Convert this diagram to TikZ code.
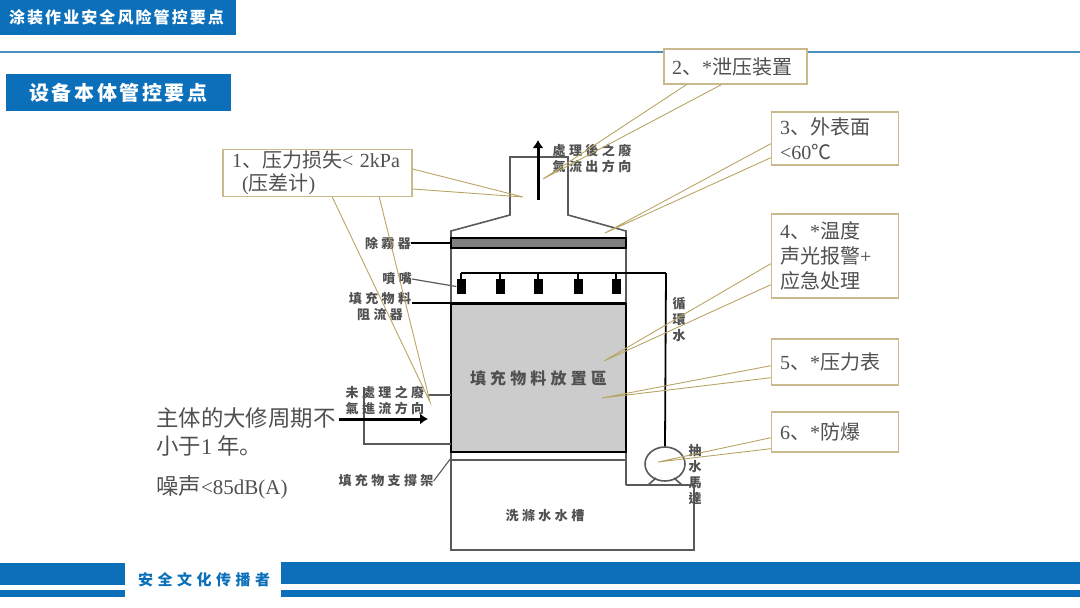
\documentclass[tikz,border=0pt]{standalone}
\usepackage{fontspec}
\setmainfont{Noto Sans CJK SC}
\newfontfamily\romfont{Liberation Serif}
\newfontfamily\headfont[LetterSpace=13]{Noto Sans CJK SC}
\newfontfamily\footfont[LetterSpace=30]{Noto Sans CJK SC}
\newfontfamily\tagfont[LetterSpace=26]{Noto Sans CJK TC}
\usepackage{xcolor}
\usetikzlibrary{arrows.meta,positioning,calc,shapes.geometric}
\definecolor{fblue}{HTML}{0B6FBA}
\definecolor{frule}{HTML}{4A8FBF}
\definecolor{ftan}{HTML}{C9B98C}
\definecolor{fleader}{HTML}{B8A566}
\definecolor{fwall}{HTML}{5A5A5A}
\definecolor{fink}{HTML}{505050}
\tikzset{
  banner/.style   = {fill=fblue, text=white, inner sep=0pt, font=\headfont\bfseries},
  stripe/.style   = {fill=fblue, draw=none},
  notebox/.style  = {draw=ftan, line width=1.4pt, fill=white, inner sep=0pt, align=left,
                     text=fink, font=\fontsize{20}{25}\selectfont},
  leader/.style   = {draw=fleader, line width=0.9pt},
  wall/.style     = {draw=fwall, line width=1.6pt},
  pipe/.style     = {draw=black, line width=1.8pt},
  nozzle/.style   = {fill=black, draw=none, minimum width=9pt, minimum height=15pt, inner sep=0pt},
  tag/.style      = {text=fink, inner sep=0pt, align=center, font=\fontsize{13}{16}\selectfont\tagfont\bfseries},
  sidetext/.style = {text=fink, inner sep=0pt, anchor=west, font=\fontsize{22.4}{28}\selectfont},
  flow/.style     = {-{Latex[length=8pt,width=11pt]}, line width=3pt, draw=black},
}
\begin{document}
\begin{tikzpicture}[x=1pt,y=-1pt]
\useasboundingbox (0,0) rectangle (1080,608);
% header and footer
\node[banner,minimum width=236pt,minimum height=35pt,font=\fontsize{16}{18}\selectfont\headfont\bfseries] (title) at (118,17.5) {\hspace*{-3pt}涂装作业安全风险管控要点};
\draw[frule,line width=1.3pt] (0,52) -- (1080,52);
\node[banner,minimum width=225pt,minimum height=37pt,font=\fontsize{20}{22}\selectfont\headfont\bfseries] (subtitle) at (118.5,92.5) {设备本体管控要点};
\fill[stripe] (0,563) rectangle (125,585);
\fill[stripe] (0,590) rectangle (125,597);
\fill[stripe] (281,562) rectangle (1080,584);
\fill[stripe] (281,590) rectangle (1080,597);
\node[text=fblue,inner sep=0pt,font=\fontsize{15}{17}\selectfont\footfont\bfseries] (slogan) at (204,580) {安全文化传播者};
% tower shell
\draw[wall] (451,460) -- (451,231) -- (510,215) -- (510,157) -- (568,157) -- (568,215) -- (626,231) -- (626,485);
\draw[wall] (451,460) -- (451,550) -- (694,550) -- (694,485) -- (626,485);
\draw[wall] (451,460) -- (626,460);
% inner parts
\node[draw=black,line width=1.6pt,fill=black!50,minimum width=175pt,minimum height=10pt,inner sep=0pt] (demister) at (538.5,243) {};
\node[draw=black,line width=1.8pt,fill=black!20,minimum width=175pt,minimum height=148pt,inner sep=0pt,
      text=fink,font=\fontsize{16}{18}\selectfont\tagfont\bfseries] (packing) at (538.5,378) {填充物料放置區};
\draw[line width=3pt] (451,303) coordinate (barleft) -- (626,303);
% spray line and pump
\coordinate (spray) at (461,273);
\coordinate (sprayend) at (666,273);
\draw[pipe] (spray) -- (sprayend);
\foreach \x/\n in {461/a,500/b,538/c,578/d,616/e}{%
  \node[nozzle] (nozzle\n) at (\x,286.5) {};
  \draw[line width=1.4pt] (nozzle\n.north) -- (nozzle\n.north |- spray);}
\node[draw=fwall,line width=1.6pt,fill=white,ellipse,minimum width=40pt,minimum height=34pt,inner sep=0pt] (pump) at (665,464) {};
\draw[pipe] (sprayend) -- (pump.north);
\draw[wall] (648,485) -- (656,478);
\draw[wall] (682,485) -- (674,478);
% gas inlet
\coordinate (inletup) at (451,395);
\coordinate (inletlow) at (451,444);
\draw[wall] (inletup) -- (428,395);
\draw[wall] (inletlow) -- (364,444) -- (364,387);
% flow labels
\node[tag] (outlabel) at (592,158) {處理後之廢\\氣流出方向};
\coordinate (outstart) at (538,200);
\coordinate (outend) at (538,140);
\draw[flow] (outstart) -- (outend);
\node[tag] (inlabel) at (385,400.5) {未處理之廢\\氣進流方向};
\coordinate (instart) at (339,419);
\coordinate (inend) at (428,419);
\draw[flow] (instart) -- (inend);
% part labels
\node[tag,anchor=east] (demisterlabel) at (411,243) {除霧器};
\node[tag,anchor=east] (nozzlelabel) at (412,279) {噴嘴};
\node[tag] (barlabel) at (380,306.5) {填充物料\\阻流器};
\node[tag] (propslabel) at (386,481) {填充物支撐架};
\node[tag] (tanklabel) at (545,516) {洗滌水水槽};
\node[tag] (looplabel) at (679,320) {循\\環\\水};
\node[tag] (pumplabel) at (695,475) {抽\\水\\馬\\達};
\draw[line width=1.4pt] (demisterlabel.east) -- (demister.west);
\draw[line width=1.2pt,fwall] (nozzlelabel.east) -- (nozzlea.west);
\draw[line width=1.4pt] (412,303) -- (barleft);
\draw[line width=1.1pt,fwall] (propslabel.east) -- (451,458);
% left notes
\node[sidetext] (overhaul) at (156,418) {主体的大修周期不};
\node[sidetext] (overhaulb) at (156,446) {小于{\romfont 1} 年。};
\node[sidetext] (noise) at (156,487) {噪声{\fontsize{21}{28}\selectfont\romfont <85dB(A)}};
% callout tips
\coordinate (tiploss) at (523,197);
\coordinate (tiploss2) at (430,402);
\coordinate (tiprelief) at (543,179);
\coordinate (tipskin) at (605,233);
\coordinate (tiptemp) at (604,361);
\coordinate (tipgauge) at (602,398);
\coordinate (tippump) at (658,462);
% callout boxes
\node[notebox,minimum width=189pt,minimum height=47pt,text width=171pt,font=\fontsize{20}{23}\selectfont] (noteloss) at (317.5,173)
  {{\romfont 1}、压力损失{\romfont < 2kPa}\\\hspace*{10pt}{\romfont (}压差计{\romfont )}};
\node[notebox,minimum width=143pt,minimum height=35pt,text width=127pt] (noterelief) at (735.5,66.5)
  {{\romfont 2}、{\romfont *}泄压装置};
\node[notebox,minimum width=127pt,minimum height=53pt,text width=110pt] (noteskin) at (835,138.5)
  {{\romfont 3}、外表面\\{\romfont <60}℃};
\node[notebox,minimum width=127pt,minimum height=84pt,text width=110pt] (notetemp) at (835,256)
  {{\romfont 4}、{\romfont *}温度\\声光报警{\romfont +}\\应急处理};
\node[notebox,minimum width=127pt,minimum height=46pt,text width=110pt] (notegauge) at (835,362)
  {{\romfont 5}、{\romfont *}压力表};
\node[notebox,minimum width=127pt,minimum height=40pt,text width=110pt] (notepump) at (835,432)
  {{\romfont 6}、{\romfont *}防爆};
% callout wedges
\draw[leader] ([yshift=4pt]noteloss.east) -- (tiploss) -- ([yshift=-16pt]noteloss.east);
\draw[leader] ([xshift=110pt]noteloss.south west) -- (tiploss2) -- ([xshift=157pt]noteloss.south west);
\draw[leader] ([xshift=23pt]noterelief.south west) -- (tiprelief) -- ([xshift=58pt]noterelief.south west);
\draw[leader] ([yshift=22pt]noteskin.south west) -- (tipskin) -- ([yshift=8pt]noteskin.south west);
\draw[leader] ([yshift=35pt]notetemp.south west) -- (tiptemp) -- ([yshift=14pt]notetemp.south west);
\draw[leader] ([yshift=20pt]notegauge.south west) -- (tipgauge) -- ([yshift=8pt]notegauge.south west);
\draw[leader] ([yshift=15pt]notepump.south west) -- (tippump) -- ([yshift=4pt]notepump.south west);
\end{tikzpicture}
\end{document}
